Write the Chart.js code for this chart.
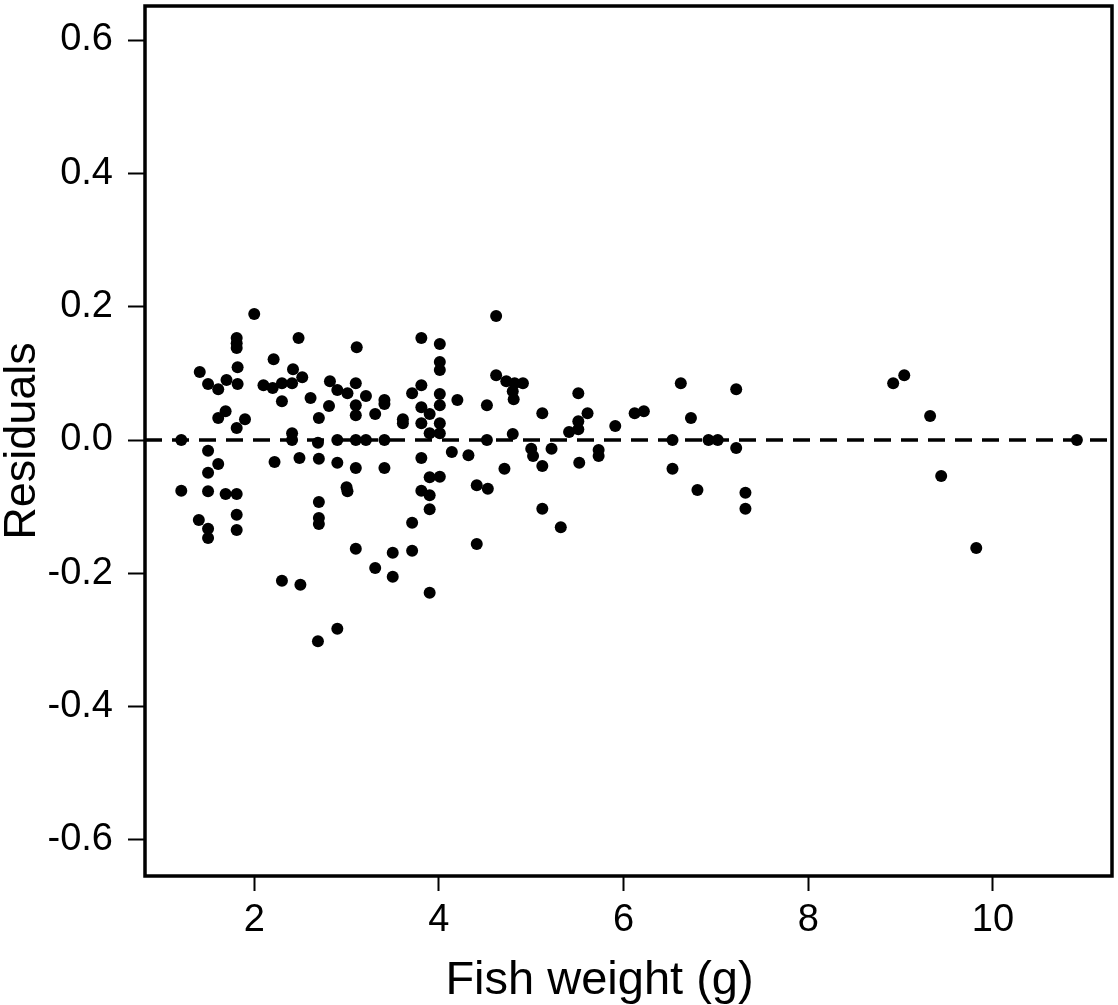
<!DOCTYPE html>
<html lang="en">
  <head>
    <meta charset="UTF-8" />
    <meta name="viewport" content="width=device-width, initial-scale=1.0" />
    <script src="https://cdn.jsdelivr.net/npm/chart.js@4.4.1/dist/chart.umd.min.js"></script>
    <title>Residuals vs fish weight</title>
    <style>
      html, body { margin: 0; padding: 0; background: #fff; }
      .canvas-container { position: relative; width: 1118px; height: 1005px; }
    </style>
  </head>
  <body>
    <div class="canvas-container">
      <canvas id="myChart"></canvas>
    </div>

    <script>
      // values
      const weights = [
        2.00, 1.81, 1.81, 1.81, 2.48, 2.21, 1.82, 1.41, 2.42, 2.52,
        2.82, 2.90, 1.50, 1.61, 1.70, 1.82, 2.10, 2.20, 2.30, 2.41,
        2.30, 2.61, 2.81, 2.70, 1.61, 1.69, 1.90, 1.81, 2.41, 2.41,
        1.21, 2.69, 2.90, 1.50, 1.61, 2.22, 2.49, 2.70, 2.90, 1.50,
        1.21, 1.50, 1.69, 1.81, 2.70, 1.81, 2.70, 2.70, 1.40, 1.50,
        1.50, 1.81, 2.30, 2.50, 2.90, 2.69,
        4.62, 3.81, 4.01, 3.11, 4.01, 4.01, 3.10, 3.01, 3.81, 3.71,
        4.62, 4.73, 4.82, 4.91, 4.80, 4.81, 4.01, 4.20, 4.52, 3.21,
        3.41, 3.41, 3.10, 3.10, 3.31, 3.61, 3.61, 3.81, 4.01, 3.90,
        3.81, 4.01, 3.90, 4.01, 3.10, 3.21, 3.41, 4.52, 4.80, 5.00,
        3.81, 4.14, 4.32, 3.10, 3.41, 4.71, 3.00, 3.01, 3.90, 4.01,
        3.81, 3.90, 4.41, 4.53, 3.90, 3.71, 3.10, 3.50, 3.71, 4.41,
        3.31, 3.50, 3.90,
        5.51, 5.12, 5.61, 5.51, 5.51, 5.41, 5.91, 6.12, 6.22, 6.62,
        6.73, 7.22, 6.53, 6.92, 7.02, 7.22, 5.02, 5.22, 5.12, 5.52,
        5.73, 5.73, 6.53, 6.80, 7.32, 7.32, 5.12, 5.32,
        8.92, 9.04, 9.32, 10.91, 9.44, 9.82
      ];
      const residuals = [
        0.189, 0.153, 0.145, 0.138, 0.153, 0.121, 0.109, 0.102, 0.106, 0.094,
        0.088, 0.075, 0.084, 0.076, 0.090, 0.084, 0.082, 0.078, 0.085, 0.085,
        0.058, 0.063, 0.051, 0.033, 0.033, 0.043, 0.031, 0.018, 0.010, 0.000,
        0.000, -0.004, 0.000, -0.016, -0.036, -0.033, -0.027, -0.028, -0.034, -0.049,
        -0.076, -0.077, -0.081, -0.081, -0.093, -0.112, -0.117, -0.126, -0.120, -0.133,
        -0.147, -0.135, -0.211, -0.217, -0.283, -0.302,
        0.186, 0.153, 0.144, 0.139, 0.117, 0.105, 0.085, 0.070, 0.082, 0.070,
        0.097, 0.088, 0.085, 0.085, 0.073, 0.061, 0.069, 0.060, 0.052, 0.066,
        0.060, 0.054, 0.052, 0.037, 0.039, 0.031, 0.025, 0.049, 0.052, 0.039,
        0.025, 0.025, 0.010, 0.010, 0.000, 0.000, 0.000, 0.000, 0.009, -0.013,
        -0.027, -0.018, -0.023, -0.042, -0.042, -0.043, -0.071, -0.077, -0.056, -0.055,
        -0.076, -0.083, -0.068, -0.073, -0.104, -0.124, -0.163, -0.169, -0.166, -0.156,
        -0.192, -0.205, -0.229,
        0.070, 0.040, 0.040, 0.028, 0.016, 0.012, 0.021, 0.040, 0.043, 0.085,
        0.033, 0.076, 0.000, 0.000, 0.000, -0.012, -0.024, -0.013, -0.039, -0.034,
        -0.015, -0.024, -0.043, -0.075, -0.079, -0.103, -0.103, -0.131,
        0.085, 0.097, 0.036, 0.000, -0.054, -0.162
      ];
      const xTicks = [2, 4, 6, 8, 10];
      const yTicks = [-0.6, -0.4, -0.2, 0.0, 0.2, 0.4, 0.6];
      const xLabel = "Fish weight (g)";
      const yLabel = "Residuals";

      const X_MIN = 0.817, X_MAX = 11.29;
      const Y_MIN = -0.654, Y_MAX = 0.651;
      const FONT = '"Liberation Sans", Arial, sans-serif';

      // box round the plot + the two axis titles
      const frame = {
        id: "frame",
        afterDraw(chart) {
          const { ctx, chartArea: a } = chart;
          ctx.save();
          ctx.strokeStyle = "#000";
          ctx.lineWidth = 3.5;
          ctx.strokeRect(a.left, a.top, a.right - a.left, a.bottom - a.top);

          ctx.fillStyle = "#000";
          ctx.font = "47px " + FONT;
          ctx.textAlign = "center";
          ctx.textBaseline = "alphabetic";
          ctx.fillText(xLabel, (a.left + a.right) / 2 - 29, a.bottom + 118);

          ctx.translate(a.left - 110, (a.top + a.bottom) / 2);
          ctx.rotate(-Math.PI / 2);
          ctx.font = "45px " + FONT;
          ctx.fillText(yLabel, 0, 0);
          ctx.restore();
        },
      };

      const points = weights.map((w, i) => ({ x: w, y: residuals[i] }));

      const ctx = document.getElementById("myChart").getContext("2d");
      const myChart = new Chart(ctx, {
        type: "scatter",
        data: {
          datasets: [
            {
              type: "line",
              data: [{ x: X_MIN, y: 0 }, { x: X_MAX, y: 0 }],
              borderColor: "#000",
              borderWidth: 3.5,
              borderDash: [17, 10],
              pointRadius: 0,
              fill: false,
            },
            {
              data: points,
              backgroundColor: "#000",
              borderWidth: 0,
              pointRadius: 6,
              pointHoverRadius: 6,
            },
          ],
        },
        options: {
          responsive: true,
          maintainAspectRatio: false,
          animation: false,
          layout: { padding: { top: 4, right: 5, left: 0, bottom: 0 } },
          plugins: { legend: { display: false }, tooltip: { enabled: false } },
          scales: {
            x: {
              type: "linear",
              min: X_MIN,
              max: X_MAX,
              afterBuildTicks: (s) => { s.ticks = xTicks.map((v) => ({ value: v })); },
              afterFit: (s) => {
                s.height = 129;
                s.paddingLeft = 0;
                s.paddingRight = 0;
              },
              border: { display: false },
              grid: {
                drawOnChartArea: false,
                drawTicks: true,
                tickLength: 15,
                tickWidth: 2,
                tickColor: "#000",
              },
              ticks: {
                color: "#000",
                padding: 7,
                maxRotation: 0,
                font: { family: FONT, size: 38 },
                callback: (v) => String(v),
              },
            },
            y: {
              type: "linear",
              min: Y_MIN,
              max: Y_MAX,
              afterBuildTicks: (s) => { s.ticks = yTicks.map((v) => ({ value: v })); },
              afterFit: (s) => {
                s.width = 145;
                s.paddingTop = 0;
                s.paddingBottom = 0;
              },
              border: { display: false },
              grid: {
                drawOnChartArea: false,
                drawTicks: true,
                tickLength: 17,
                tickWidth: 2,
                tickColor: "#000",
              },
              ticks: {
                color: "#000",
                padding: 15,
                font: { family: FONT, size: 38 },
                callback: (v) => v.toFixed(1),
              },
            },
          },
        },
        plugins: [frame],
      });
    </script>
  </body>
</html>
